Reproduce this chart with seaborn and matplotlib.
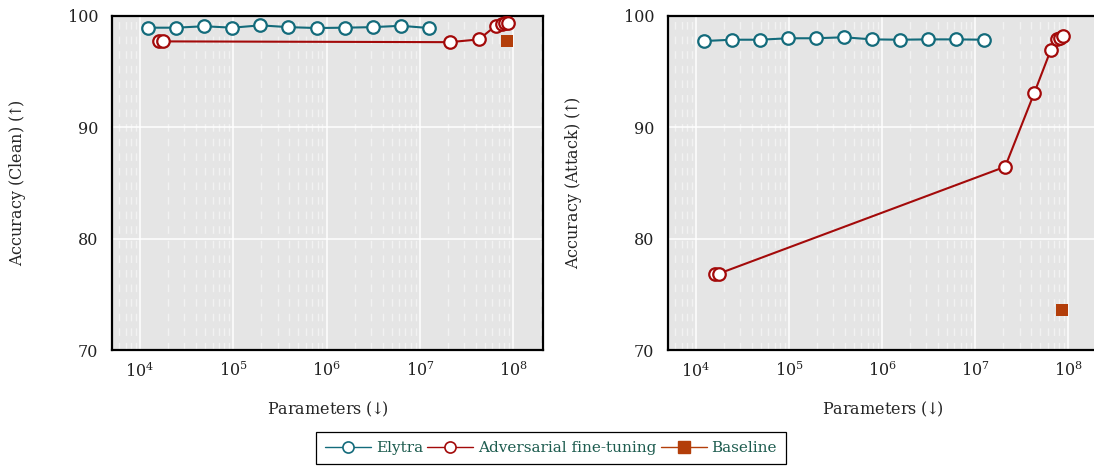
import matplotlib
matplotlib.use("Agg")
import matplotlib.pyplot as plt
import seaborn as sns
import numpy as np
from matplotlib.lines import Line2D

# data
elytra_params = [1.22e4, 2.44e4, 4.88e4, 9.77e4, 1.95e5, 3.9e5, 7.8e5, 1.56e6, 3.12e6, 6.25e6, 1.25e7]
elytra_clean = [98.95, 98.95, 99.08, 98.95, 99.16, 99.0, 98.92, 98.95, 99.0, 99.12, 98.92]
elytra_attack = [97.75, 97.87, 97.87, 98.0, 98.0, 98.09, 97.9, 97.87, 97.9, 97.9, 97.87]

adv_params = [1.6e4, 1.75e4, 2.1e7, 4.3e7, 6.5e7, 7.6e7, 8.2e7, 8.7e7]
adv_clean = [97.72, 97.72, 97.65, 97.9, 99.12, 99.3, 99.34, 99.36]
adv_attack = [76.8, 76.85, 86.46, 93.05, 96.95, 97.9, 98.05, 98.2]

baseline_params = [8.6e7]
baseline_clean = [97.75]
baseline_attack = [73.6]

ylabels = [r"Accuracy (Clean) $(\!\!\uparrow\!\!)$",
           r"Accuracy (Attack) $(\!\!\uparrow\!\!)$"]
xlabel = r"Parameters $(\!\!\downarrow\!\!)$"

C_ELY = "#136b7b"
C_ADV = "#a30a0a"
C_BASE = "#b33e0a"
C_TEXT = "#1d5c4f"

sns.set_theme(style="darkgrid", rc={"axes.facecolor": "#e5e5e5",
                                    "grid.color": "white"})
plt.rcParams["font.family"] = ["DejaVu Serif"]
plt.rcParams["mathtext.fontset"] = "dejavuserif"

fig = plt.figure(figsize=(10.94, 4.66), dpi=100)
W, H = 1094, 466
ax1 = fig.add_axes([112 / W, (H - 350) / H, 431 / W, 334 / H])
ax2 = fig.add_axes([668 / W, (H - 350) / H, 430 / W, 334 / H])

panels = [(ax1, elytra_clean, adv_clean, baseline_clean),
          (ax2, elytra_attack, adv_attack, baseline_attack)]

FS = 11.5

for i, (ax, ely, adv, base) in enumerate(panels):
    ax.set_xscale("log")
    sns.lineplot(x=elytra_params, y=ely, ax=ax, color=C_ELY, lw=1.5, sort=False,
                 marker="o", markersize=9, markerfacecolor="white",
                 markeredgecolor=C_ELY, markeredgewidth=1.6, zorder=3)
    sns.lineplot(x=adv_params, y=adv, ax=ax, color=C_ADV, lw=1.5, sort=False,
                 marker="o", markersize=9, markerfacecolor="white",
                 markeredgecolor=C_ADV, markeredgewidth=1.6, zorder=3)
    sns.scatterplot(x=baseline_params, y=base, ax=ax, color=C_BASE, marker="s",
                    s=85, linewidth=0, zorder=4)

    ax.set_xlim(10 ** 3.7, 10 ** 8.32)
    ax.set_ylim(70, 100)
    ax.set_yticks([70, 80, 90, 100])
    ax.set_xticks([1e4, 1e5, 1e6, 1e7, 1e8])
    ax.set_xticklabels([r"$10^{%d}$" % k for k in range(4, 9)])
    ax.grid(True, which="major", color="white", lw=1.1)
    ax.grid(True, which="minor", axis="x", color="white", lw=1.0, alpha=0.5,
            linestyle=(0, (5.5, 5)))
    ax.tick_params(axis="both", which="both", length=0, labelsize=FS,
                   colors="#222222")
    ax.tick_params(axis="x", pad=8)
    ax.tick_params(axis="y", pad=10)
    for sp in ax.spines.values():
        sp.set_visible(True)
        sp.set_color("black")
        sp.set_linewidth(1.6)
    ax.set_xlabel(xlabel, fontsize=FS)
    ax.set_ylabel(ylabels[i], fontsize=FS)
    ax.xaxis.set_label_coords(0.5, -0.148)
    ax.yaxis.set_label_coords(-0.195, 0.5)

handles = [
    Line2D([], [], color=C_ELY, lw=1.0, marker="o", markersize=8,
           markerfacecolor="white", markeredgecolor=C_ELY, markeredgewidth=1.2),
    Line2D([], [], color=C_ADV, lw=1.0, marker="o", markersize=8,
           markerfacecolor="white", markeredgecolor=C_ADV, markeredgewidth=1.2),
    Line2D([], [], color=C_BASE, lw=1.0, marker="s", markersize=8,
           markerfacecolor=C_BASE, markeredgecolor=C_BASE),
]
leg = fig.legend(handles, ["Elytra", "Adversarial fine-tuning", "Baseline"],
                 loc="center", bbox_to_anchor=(551 / W, (H - 448) / H), ncol=3,
                 frameon=True, fancybox=False, fontsize=11, labelcolor=C_TEXT,
                 handlelength=3.0, handletextpad=0.3, columnspacing=0.3,
                 borderpad=0.6, edgecolor="black", facecolor="white",
                 framealpha=1)
leg.get_frame().set_linewidth(0.9)

fig.savefig("out.png", dpi=100, facecolor="white")
